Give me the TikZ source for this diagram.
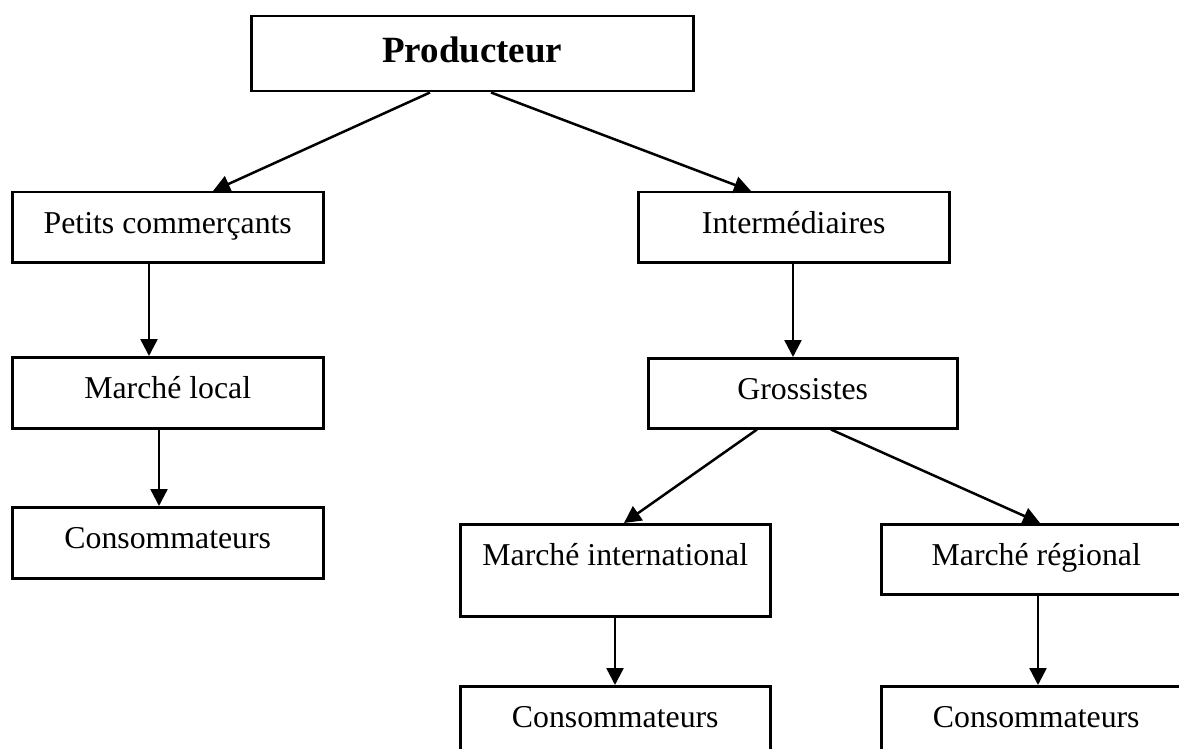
\documentclass[tikz,border=0pt]{standalone}
\usepackage{fontspec}
\setmainfont{Liberation Serif}
\usetikzlibrary{arrows.meta,calc}
\tikzset{
  box/.style={draw, line width=2.5pt, inner sep=0pt, anchor=north west,
    font=\fontsize{31.8}{36}\selectfont, text height=41pt},
  flow/.style={line width=2.5pt, -{Triangle[length=17pt,width=17pt]}}
}
\begin{document}
\begin{tikzpicture}[x=1pt,y=-1pt]
\useasboundingbox (0,0) rectangle (1179,749);
\clip (0,0) rectangle (1179,749);
\node[box, minimum width=442pt, text height=46pt, text depth=29pt,
  font=\fontsize{37}{42}\selectfont\bfseries] (prod) at (250,15) {Producteur};
\node[box, minimum width=311pt, text depth=29pt] (pc) at (11,191) {Petits commerçants};
\node[box, minimum width=311pt, text depth=30pt] (ml) at (11,356) {Marché local};
\node[box, minimum width=311pt, text depth=30pt] (cl) at (11,506) {Consommateurs};
\node[box, minimum width=311pt, text depth=29pt] (int) at (637,191) {Intermédiaires};
\node[box, minimum width=309pt, text depth=29pt] (gro) at (647,357) {Grossistes};
\node[box, minimum width=310pt, text depth=51pt] (mi) at (459,523) {Marché international};
\node[box, minimum width=310pt, text depth=29pt] (mr) at (880,523) {Marché régional};
\node[box, minimum width=310pt, text depth=45pt] (ci) at (459,685) {Consommateurs};
\node[box, minimum width=310pt, text depth=45pt] (cr) at (880,685) {Consommateurs};
\draw[flow] ($(prod.south west)+(180,0)$) -- ($(pc.north west)+(202,0)$);
\draw[flow] ($(prod.south west)+(241,0)$) -- ($(int.north west)+(114,0)$);
\draw[flow] ($(pc.south west)+(138,0)$) -- ($(ml.north west)+(138,0)$);
\draw[flow] ($(ml.south west)+(148,0)$) -- ($(cl.north west)+(148,0)$);
\draw[flow] ($(int.south west)+(156,0)$) -- ($(gro.north west)+(146,0)$);
\draw[flow] ($(gro.south west)+(110,0)$) -- ($(mi.north west)+(165,0)$);
\draw[flow] ($(gro.south west)+(184,0)$) -- ($(mr.north west)+(160,0)$);
\draw[flow] ($(mi.south west)+(156,0)$) -- ($(ci.north west)+(156,0)$);
\draw[flow] ($(mr.south west)+(158,0)$) -- ($(cr.north west)+(158,0)$);
\end{tikzpicture}
\end{document}
